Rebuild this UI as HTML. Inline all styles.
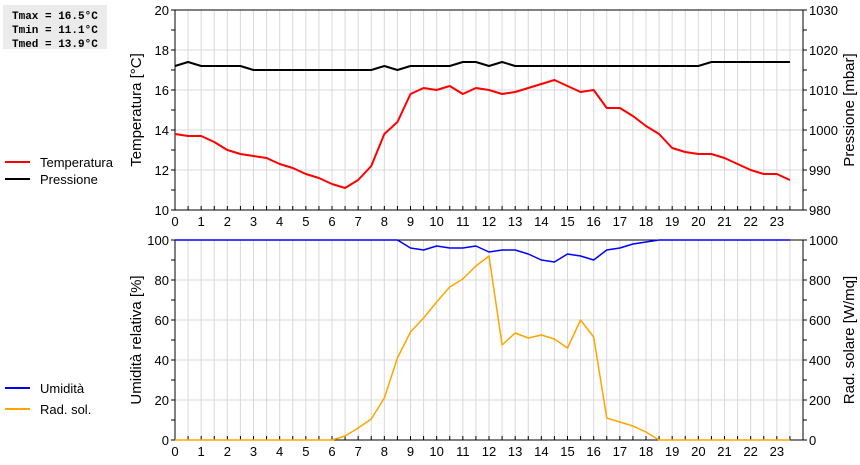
<!DOCTYPE html>
<html><head><meta charset="utf-8"><style>
body{margin:0;background:#fff;width:860px;height:460px;overflow:hidden}
text{font-family:"Liberation Sans",sans-serif;font-size:13px;fill:#000}
</style></head><body>
<svg id="chart" width="860" height="460" xmlns="http://www.w3.org/2000/svg">
<rect x="3" y="5" width="104" height="44" fill="#ebebeb"/>
<text x="12" y="19" style="font-family:'Liberation Mono',monospace;font-size:11px;font-weight:bold">Tmax = 16.5°C</text>
<text x="12" y="33" style="font-family:'Liberation Mono',monospace;font-size:11px;font-weight:bold">Tmin = 11.1°C</text>
<text x="12" y="47" style="font-family:'Liberation Mono',monospace;font-size:11px;font-weight:bold">Tmed = 13.9°C</text>
<g id="g"></g>
</svg>
<script>
const hours=[0,0.5,1,1.5,2,2.5,3,3.5,4,4.5,5,5.5,6,6.5,7,7.5,8,8.5,9,9.5,10,10.5,11,11.5,12,12.5,13,13.5,14,14.5,15,15.5,16,16.5,17,17.5,18,18.5,19,19.5,20,20.5,21,21.5,22,22.5,23,23.5];
const temperature=[13.8,13.7,13.7,13.4,13.0,12.8,12.7,12.6,12.3,12.1,11.8,11.6,11.3,11.1,11.5,12.2,13.8,14.4,15.8,16.1,16.0,16.2,15.8,16.1,16.0,15.8,15.9,16.1,16.3,16.5,16.2,15.9,16.0,15.1,15.1,14.7,14.2,13.8,13.1,12.9,12.8,12.8,12.6,12.3,12.0,11.8,11.8,11.5];
const pressure=[1016,1017,1016,1016,1016,1016,1015,1015,1015,1015,1015,1015,1015,1015,1015,1015,1016,1015,1016,1016,1016,1016,1017,1017,1016,1017,1016,1016,1016,1016,1016,1016,1016,1016,1016,1016,1016,1016,1016,1016,1016,1017,1017,1017,1017,1017,1017,1017];
const humidity=[100,100,100,100,100,100,100,100,100,100,100,100,100,100,100,100,100,100,96,95,97,96,96,97,94,95,95,93,90,89,93,92,90,95,96,98,99,100,100,100,100,100,100,100,100,100,100,100];
const solar=[0,0,0,0,0,0,0,0,0,0,0,0,0,20,60,105,210,410,540,610,690,765,805,870,920,475,535,510,525,505,460,600,515,110,90,70,40,0,0,0,0,0,0,0,0,0,0,0];
const xTicks=[0,1,2,3,4,5,6,7,8,9,10,11,12,13,14,15,16,17,18,19,20,21,22,23];
const tempTicks=[10,12,14,16,18,20];
const presTicks=[980,990,1000,1010,1020,1030];
const humTicks=[0,20,40,60,80,100];
const solTicks=[0,200,400,600,800,1000];

const NS="http://www.w3.org/2000/svg",G=document.getElementById('g');
const X0=175,X1=803;
const x=h=>X0+h*(X1-X0)/24;
function mk(t,a,txt){const e=document.createElementNS(NS,t);for(const k in a)e.setAttribute(k,a[k]);if(txt!==undefined)e.textContent=txt;G.appendChild(e);return e;}
function panel(top,bot,lmin,lmax,rmin,rmax,lt,rt,ltitle,rtitle,pn){
 const yl=v=>bot-(v-lmin)/(lmax-lmin)*(bot-top);
 for(let h=0.5;h<24;h+=0.5){const l=mk('line',{x1:x(h),x2:x(h),y1:top,y2:bot,stroke:'#d9d9d9'});
 
 }
 for(let i=1;i<lt.length-1;i++){const l=mk('line',{x1:X0,x2:X1,y1:yl(lt[i]),y2:yl(lt[i]),stroke:'#d9d9d9'});
 
 }
 const r=mk('rect',{x:X0,y:top,width:X1-X0,height:bot-top,fill:'none',stroke:'#000'});
 
 
 const step=(lt[1]-lt[0])/2;
 for(let v=lmin;v<=lmax;v+=step){const y=yl(v);mk('line',{x1:X0-4,x2:X0,y1:y,y2:y,stroke:'#000'});mk('line',{x1:X1,x2:X1+4,y1:y,y2:y,stroke:'#000'});}
 for(let h=0;h<24;h+=0.5)mk('line',{x1:x(h),x2:x(h),y1:bot-4,y2:bot,stroke:'#000'});
 lt.forEach(v=>{const t=mk('text',{x:X0-6,y:yl(v)+5,'text-anchor':'end'},v);
 
 });
 rt.forEach((v,i)=>{const t=mk('text',{x:X1+6,y:yl(lt[i])+5},v);
 
 });
 xTicks.forEach(h=>{const t=mk('text',{x:x(h),y:bot+16,'text-anchor':'middle'},h);
 
 });
 const a=mk('text',{transform:`translate(141,${(top+bot)/2}) rotate(-90)`,'text-anchor':'middle',style:'font-size:15px'},ltitle);
 
 
 const b=mk('text',{transform:`translate(854,${(top+bot)/2}) rotate(-90)`,'text-anchor':'middle',style:'font-size:15px'},rtitle);
 
 
}
function series(vals,top,bot,min,max,color,name,w){
 const y=v=>bot-(v-min)/(max-min)*(bot-top);
 const p=mk('polyline',{points:vals.map((v,i)=>x(hours[i])+','+y(v)).join(' '),fill:'none',stroke:color,'stroke-width':w,'stroke-linejoin':'round'});
 
 
}
function legend(y,color,label,name){
 mk('line',{x1:5,x2:30,y1:y,y2:y,stroke:color,'stroke-width':2});
 const t=mk('text',{x:40,y:y+5},label);
 
 
}
panel(10,210,10,20,980,1030,tempTicks,presTicks,'Temperatura [°C]','Pressione [mbar]','top');
panel(240,440,0,100,0,1000,humTicks,solTicks,'Umidità relativa [%]','Rad. solare [W/mq]','bottom');
series(pressure,10,210,980,1030,'#000','pressure-line',2);
series(temperature,10,210,10,20,'#f00','temperature-line',2);
series(solar,240,440,0,1000,'#ffa500','solar-radiation-line',1.5);
series(humidity,240,440,0,100,'#00f','humidity-line',1.5);
legend(162,'#f00','Temperatura','legend-temperatura');
legend(179,'#000','Pressione','legend-pressione');
legend(388,'#00f','Umidità','legend-umidita');
legend(409,'#ffa500','Rad. sol.','legend-rad-sol');
</script>
</body></html>
